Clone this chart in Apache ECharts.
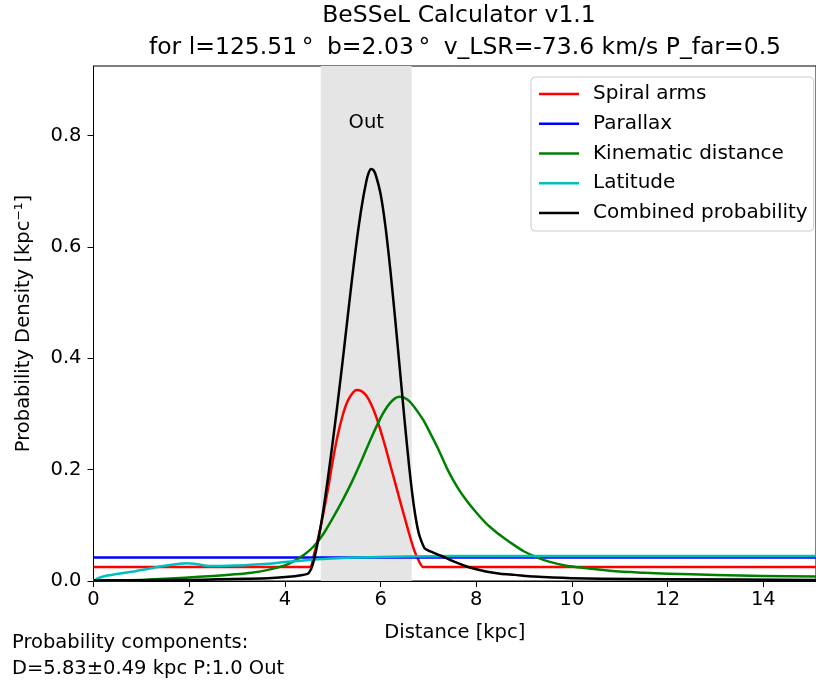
<!DOCTYPE html>
<html>
<head>
<meta charset="utf-8">
<script src="https://cdn.jsdelivr.net/npm/echarts@6/dist/echarts.min.js"></script>
<style>
html,body{margin:0;padding:0;background:#fff;}
#chart{width:816px;height:684px;}
</style>
</head>
<body>
<div id="chart"></div>
<script>
// ---- data ----
const titleLine1 = 'BeSSeL Calculator v1.1';
const titleLine2 = 'for l=125.51\u2009°\u2005 b=2.03\u2009°\u2005 v_LSR=-73.6 km/s P_far=0.5';
const xTicks = [0, 2, 4, 6, 8, 10, 12, 14];
const yTicks = [0.0, 0.2, 0.4, 0.6, 0.8];
const seriesNames = ['Spiral arms', 'Parallax', 'Kinematic distance', 'Latitude', 'Combined probability'];
const seriesColors = ['#ff0000', '#0000ff', '#008000', '#00bfbf', '#000000'];
const outRegion = [4.75, 6.65];
const outLabel = [5.7, 0.823];
const footerLines = ['Probability components:', 'D=5.83±0.49 kpc P:1.0 Out'];

const spiralArms = [[0,0.025],[4.52,0.025],[4.6,0.045],[4.7,0.079],[4.8,0.120],[4.9,0.165],[5.0,0.216],[5.1,0.260],[5.2,0.295],[5.3,0.321],[5.4,0.336],[5.5,0.343],[5.6,0.341],[5.7,0.333],[5.8,0.318],[5.9,0.297],[6.0,0.270],[6.1,0.241],[6.2,0.209],[6.3,0.178],[6.4,0.146],[6.5,0.115],[6.6,0.084],[6.7,0.056],[6.8,0.036],[6.89,0.025],[15.1,0.025]];
const parallax = [[0,0.042],[15.1,0.042]];
const kinematic = [[0,0.0005],[0.5,0.001],[1.0,0.002],[1.5,0.004],[1.91,0.006],[2.5,0.009],[2.95,0.012],[3.3,0.015],[3.65,0.020],[4.0,0.028],[4.2,0.036],[4.4,0.047],[4.6,0.062],[4.8,0.084],[5.0,0.113],[5.2,0.144],[5.4,0.178],[5.6,0.216],[5.8,0.256],[6.0,0.293],[6.1,0.308],[6.2,0.320],[6.3,0.328],[6.4,0.331],[6.5,0.329],[6.6,0.323],[6.7,0.313],[6.8,0.301],[6.9,0.288],[7.0,0.272],[7.2,0.238],[7.4,0.200],[7.6,0.169],[7.8,0.144],[8.0,0.123],[8.2,0.104],[8.4,0.089],[8.6,0.076],[8.8,0.064],[9.0,0.053],[9.2,0.045],[9.4,0.038],[9.6,0.033],[9.8,0.029],[10.0,0.026],[10.5,0.021],[11.0,0.017],[11.5,0.015],[12.0,0.013],[13.0,0.011],[14.0,0.009],[15.1,0.008]];
const latitude = [[0,0.0],[0.1,0.005],[0.24,0.009],[0.45,0.012],[0.66,0.015],[0.9,0.018],[1.21,0.023],[1.45,0.027],[1.63,0.029],[1.8,0.031],[1.95,0.032],[2.1,0.031],[2.25,0.029],[2.4,0.027],[2.6,0.027],[3.0,0.028],[3.3,0.029],[3.65,0.031],[4.0,0.034],[4.4,0.037],[4.69,0.039],[5.1,0.041],[5.5,0.042],[6.0,0.043],[6.5,0.044],[7.5,0.045],[15.1,0.045]];
const combined = [[0,0.001],[1,0.0015],[2,0.002],[2.6,0.003],[3.2,0.004],[3.65,0.005],[4.14,0.008],[4.3,0.010],[4.48,0.013],[4.55,0.022],[4.6,0.035],[4.7,0.075],[4.8,0.125],[4.9,0.185],[5.0,0.250],[5.1,0.318],[5.2,0.390],[5.3,0.465],[5.4,0.540],[5.5,0.610],[5.6,0.670],[5.7,0.717],[5.75,0.733],[5.8,0.740],[5.85,0.738],[5.9,0.729],[6.0,0.695],[6.1,0.638],[6.2,0.562],[6.3,0.475],[6.4,0.383],[6.5,0.290],[6.6,0.203],[6.7,0.132],[6.8,0.085],[6.92,0.059],[7.1,0.051],[7.3,0.044],[7.5,0.036],[7.8,0.026],[8.0,0.021],[8.2,0.017],[8.5,0.013],[8.8,0.011],[9.2,0.008],[9.6,0.0065],[10.0,0.005],[10.6,0.004],[12,0.003],[15.1,0.002]];
const allSeries = [spiralArms, parallax, kinematic, latitude, combined];

// ---- chart ----
const FONT = 'DejaVu Sans';
const chart = echarts.init(document.getElementById('chart'), null, {renderer: 'canvas'});
const lineSeries = allSeries.map((d, i) => ({
  name: seriesNames[i],
  type: 'line',
  data: d,
  showSymbol: false,
  symbol: 'none',
  smooth: i === 1 ? false : 0.2,
  lineStyle: {color: seriesColors[i], width: 2.5, join: 'round'},
  itemStyle: {color: seriesColors[i]},
  z: 3 + i
}));

const titleStyle = {fontFamily: FONT, fontSize: 23.5, fontWeight: 'normal', color: '#000'};
const option = {
  animation: false,
  backgroundColor: '#ffffff',
  textStyle: {fontFamily: FONT},
  title: [
    {text: titleLine1, left: 459, top: 4, textAlign: 'center', padding: 0, textStyle: titleStyle},
    {text: titleLine2, left: 465, top: 36, textAlign: 'center', padding: 0, textStyle: titleStyle}
  ],
  legend: {
    orient: 'vertical',
    left: 531, top: 77,
    padding: [7, 6, 8, 8],
    itemWidth: 40, itemHeight: 2.5, itemGap: 9.75,
    icon: 'rect',
    data: seriesNames,
    backgroundColor: 'rgba(255,255,255,0.8)',
    borderColor: '#cccccc', borderWidth: 1, borderRadius: 4,
    textStyle: {fontFamily: FONT, fontSize: 20, color: '#000', lineHeight: 20, padding: [0, 0, 0, 9]}
  },
  grid: {left: 93.5, top: 66, right: -1, bottom: 103, show: true, borderColor: '#000', borderWidth: 1, backgroundColor: 'transparent'},
  xAxis: {
    type: 'value', min: 0, max: 15.1, interval: 2,
    name: 'Distance [kpc]', nameLocation: 'middle', nameGap: 42,
    nameTextStyle: {fontFamily: FONT, fontSize: 19.5, color: '#000'},
    axisLine: {show: true, lineStyle: {color: '#000', width: 1}},
    axisTick: {show: true, length: 6, lineStyle: {color: '#000'}},
    axisLabel: {show: true, margin: 9, fontFamily: FONT, fontSize: 19.5, color: '#000', showMaxLabel: false,
      formatter: v => xTicks.includes(v) ? String(v) : ''},
    splitLine: {show: false}
  },
  yAxis: {
    type: 'value', min: 0, max: 0.925, interval: 0.2,
    name: 'Probability Density [kpc\u207B\u00B9]', nameLocation: 'middle', nameGap: 60, nameRotate: 90,
    nameTextStyle: {fontFamily: FONT, fontSize: 19.5, color: '#000'},
    axisLine: {show: true, lineStyle: {color: '#000', width: 1}},
    axisTick: {show: true, length: 6, lineStyle: {color: '#000'}},
    axisLabel: {show: true, margin: 12, fontFamily: FONT, fontSize: 19.5, color: '#000', showMaxLabel: false,
      formatter: v => yTicks.some(t => Math.abs(t - v) < 1e-9) ? v.toFixed(1) : ''},
    splitLine: {show: false}
  },
  series: [{
    name: '_region', type: 'line', data: [], z: 1,
    markArea: {silent: true, itemStyle: {color: '#e5e5e5'}, data: [[{xAxis: outRegion[0]}, {xAxis: outRegion[1]}]]},
    markPoint: {silent: true, symbol: 'circle', symbolSize: 0,
      label: {show: true, position: 'inside', formatter: 'Out', fontFamily: FONT, fontSize: 19.5, color: '#000'},
      data: [{coord: outLabel}]}
  }].concat(lineSeries),
  graphic: footerLines.map((t, i) => ({
    type: 'text', left: 12, top: 633 + i * 26,
    style: {text: t, fontFamily: FONT, fontSize: 19.5, fill: '#000'}
  }))
};
chart.setOption(option);
</script>
</body>
</html>
